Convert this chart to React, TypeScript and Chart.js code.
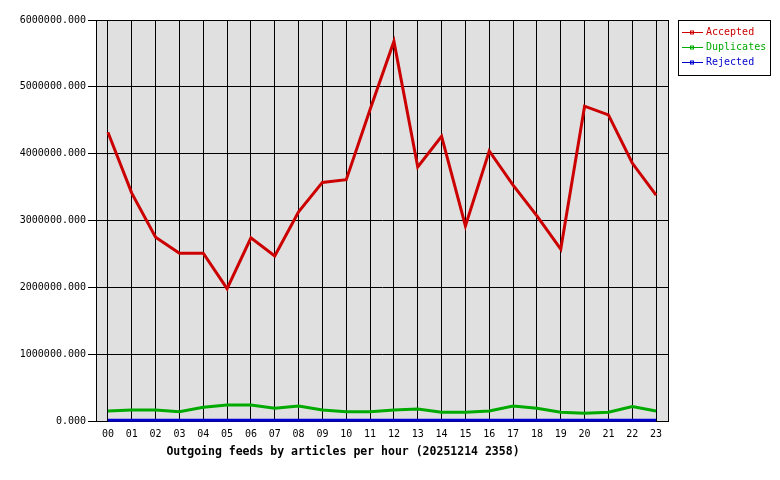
import React, { useEffect, useRef } from "react";
import { Chart, registerables } from "chart.js";

Chart.register(...registerables);

const hours = ["00","01","02","03","04","05","06","07","08","09","10","11","12","13","14","15","16","17","18","19","20","21","22","23"];
const accepted = [4320000,3410000,2750000,2510000,2510000,1980000,2740000,2470000,3130000,3570000,3610000,4660000,5680000,3800000,4260000,2920000,4040000,3530000,3070000,2570000,4710000,4580000,3860000,3380000];
const duplicates = [150000,165000,165000,140000,205000,240000,240000,190000,225000,165000,140000,140000,165000,180000,130000,130000,150000,225000,190000,130000,115000,130000,215000,150000];
const rejected = [12000,12000,12000,12000,12000,12000,12000,12000,12000,12000,12000,12000,12000,12000,12000,12000,12000,12000,12000,12000,12000,12000,12000,12000];
const seriesLabels = ["Accepted", "Duplicates", "Rejected"];
const seriesColors = ["#cc0000", "#00aa00", "#0000cc"];
const titleText = "Outgoing feeds by articles per hour (20251214 2358)";
const yTicks = [0, 1000000, 2000000, 3000000, 4000000, 5000000, 6000000];

const MONO = "'DejaVu Sans Mono', 'Liberation Mono', monospace";

const bgPlugin = {
  id: "bgPlugin",
  beforeDraw(chart: any) {
    const { ctx, chartArea } = chart;
    ctx.save();
    ctx.fillStyle = "#ffffff";
    ctx.fillRect(0, 0, chart.width, chart.height);
    ctx.fillStyle = "#e0e0e0";
    ctx.fillRect(chartArea.left, chartArea.top, chartArea.right - chartArea.left, chartArea.bottom - chartArea.top);
    ctx.restore();
  },
  afterDraw(chart: any) {
    const { ctx, chartArea } = chart;
    ctx.save();
    ctx.strokeStyle = "#000";
    ctx.lineWidth = 1;
    ctx.beginPath();
    ctx.moveTo(Math.round(chartArea.right) + 0.5, Math.round(chartArea.top));
    ctx.lineTo(Math.round(chartArea.right) + 0.5, Math.round(chartArea.bottom));
    ctx.stroke();
    // title
    ctx.fillStyle = "#000";
    ctx.font = "bold 11.5px " + MONO;
    ctx.textAlign = "center";
    ctx.textBaseline = "middle";
    ctx.fillText(titleText, 343, 452);
    // legend
    ctx.strokeRect(678.5, 20.5, 92, 55);
    ctx.font = "10px " + MONO;
    ctx.textAlign = "left";
    chart.data.datasets.forEach((ds: any, i: number) => {
      const y = 32.5 + i * 15;
      ctx.strokeStyle = ds.borderColor;
      ctx.beginPath();
      ctx.moveTo(682, y);
      ctx.lineTo(703, y);
      ctx.stroke();
      ctx.strokeRect(690.5, y - 1.5, 3, 3);
      ctx.fillStyle = ds.borderColor;
      ctx.fillText(ds.label, 706, y);
    });
    ctx.restore();
  },
};

export default function App() {
  const ref = useRef<HTMLCanvasElement | null>(null);
  useEffect(() => {
    if (!ref.current) return;
    const data = [accepted, duplicates, rejected];
    const chart = new Chart(ref.current, {
      type: "line",
      data: {
        labels: hours,
        datasets: [0, 1, 2].map((i) => ({
          label: seriesLabels[i],
          data: data[i],
          borderColor: seriesColors[i],
          backgroundColor: seriesColors[i],
          borderWidth: 3,
          pointRadius: 0,
          tension: 0,
          clip: false as any,
        })),
      },
      options: {
        animation: false,
        responsive: false,
        devicePixelRatio: 1,
        layout: { padding: { top: 20, right: 112, left: 0, bottom: 0 } },
        plugins: { legend: { display: false }, title: { display: false }, tooltip: { enabled: false } },
        scales: {
          x: {
            type: "category",
            offset: true,
            grid: { color: "#000", lineWidth: 1, drawTicks: false, offset: false },
            border: { display: true, color: "#000" },
            ticks: { color: "#000", font: { family: MONO, size: 10 }, padding: 7, maxRotation: 0, autoSkip: false },
            afterFit: (s: any) => { s.height = 59; },
          },
          y: {
            min: 0,
            max: 6000000,
            afterBuildTicks: (s: any) => { s.ticks = yTicks.map((v) => ({ value: v })); },
            grid: { color: "#000", lineWidth: 1, drawTicks: true, tickLength: 8 },
            border: { display: true, color: "#000" },
            ticks: { color: "#000", font: { family: MONO, size: 10 }, padding: 2, callback: (v: any) => Number(v).toFixed(3) },
            afterFit: (s: any) => { s.width = 96; },
          },
        },
      },
      plugins: [bgPlugin],
    });
    return () => chart.destroy();
  }, []);
  return (
    <div style={{ position: "fixed", left: 0, top: 0, width: 780, height: 480, background: "#fff" }}>
      <canvas ref={ref} width={780} height={480} style={{ display: "block", width: 780, height: 480 }} />
    </div>
  );
}
